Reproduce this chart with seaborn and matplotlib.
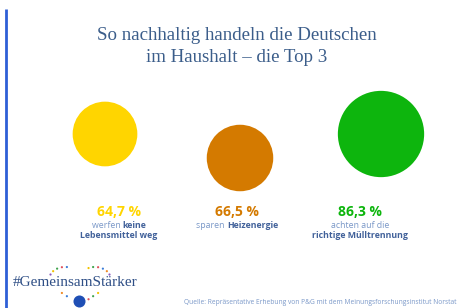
import numpy as np
import pandas as pd
import matplotlib
matplotlib.use("Agg")
import matplotlib.pyplot as plt
import seaborn as sns

# data
labels = ["Lebensmittel", "Heizenergie", "Mülltrennung"]
values = [64.7, 66.5, 86.3]
value_text = ["64,7 %", "66,5 %", "86,3 %"]
line1 = [("werfen ", "keine"), ("sparen ", "Heizenergie"), ("achten auf die", "")]
line2 = [("", "Lebensmittel weg"), None, ("", "richtige Mülltrennung")]
colors = ["#FFD500", "#D47A00", "#0DB50D"]

# layout (pixel canvas)
W, H = 459, 308
x_pos = [105, 240, 381]
y_pos = [134, 158, 134]
text_x = [119, 237, 360]

sns.set_style("white")
fig = plt.figure(figsize=(W / 100, H / 100), dpi=100)
ax = fig.add_axes([0, 0, 1, 1])
ax.set_xlim(0, W)
ax.set_ylim(H, 0)
ax.axis("off")

df = pd.DataFrame({"x": x_pos, "y": y_pos, "label": labels, "value": values})
# radius in px roughly half the percentage value
df["s"] = (2 * df["value"] * 0.5 * 0.72) ** 2
sns.scatterplot(data=df, x="x", y="y", hue="label", palette=colors,
                s=df["s"].values, linewidth=0, legend=False, ax=ax)

# left accent bar
ax.plot([6, 6], [9, H], color="#2E5FD6", lw=2, solid_capstyle="butt")

title_col = "#3B5D8A"
ax.text(237, 36, "So nachhaltig handeln die Deutschen", ha="center", va="center",
        fontsize=13.6, family="Liberation Serif", color=title_col)
ax.text(237, 57, "im Haushalt – die Top 3", ha="center", va="center",
        fontsize=13.6, family="Liberation Serif", color=title_col)

desc_col = "#41619A"
fig.canvas.draw()
renderer = fig.canvas.get_renderer()


def two_part(x, y, normal, bold):
    parts = []
    if normal:
        parts.append(ax.text(x, y, normal, fontsize=6.3, family="Open Sans",
                             color="#7A98C8", va="center", ha="left"))
    if bold:
        parts.append(ax.text(x, y, bold, fontsize=6.3, family="Open Sans",
                             weight="bold", color=desc_col, va="center", ha="left"))
    widths = [p.get_window_extent(renderer).width for p in parts]
    start = x - sum(widths) / 2
    for p, w in zip(parts, widths):
        p.set_x(start)
        start += w


for i in range(3):
    ax.text(text_x[i], 212, value_text[i], ha="center", va="center",
            fontsize=10, family="Open Sans", weight="bold", color=colors[i])
    if line2[i] is None:
        two_part(text_x[i], 225, *line1[i])
    else:
        two_part(text_x[i], 225, *line1[i])
        two_part(text_x[i], 236, *line2[i])

# hashtag logo
ax.text(13, 283, "#GemeinsamStärker", ha="left", va="center", fontsize=11,
        family="Liberation Serif", color="#2F4F86")
t = np.linspace(0, 2 * np.pi, 44, endpoint=False)
hx = 16 * np.sin(t) ** 3
hy = 13 * np.cos(t) - 5 * np.cos(2 * t) - 2 * np.cos(3 * t) - np.cos(4 * t)
px = 80 + hx * 1.9
py = 284 - hy * 1.43
keep = (np.abs(py - 283) > 8) & (np.abs(px - 79) > 8)
dot_cols = ["#F2C200", "#3FA34D", "#E0505A", "#3B7DD8", "#F08A24", "#8E5BC0"]
ax.scatter(px[keep], py[keep], s=2.5,
           c=[dot_cols[k % len(dot_cols)] for k in range(keep.sum())], linewidths=0)
ax.scatter([79], [301], s=75, color="#1F4FB5", linewidths=0)

ax.text(457, 303, "Quelle: Repräsentative Erhebung von P&G mit dem Meinungsforschungsinstitut Norstat",
        ha="right", va="center", fontsize=4.8, family="Open Sans", color="#7A98C8")

fig.savefig("out.png", dpi=100)
